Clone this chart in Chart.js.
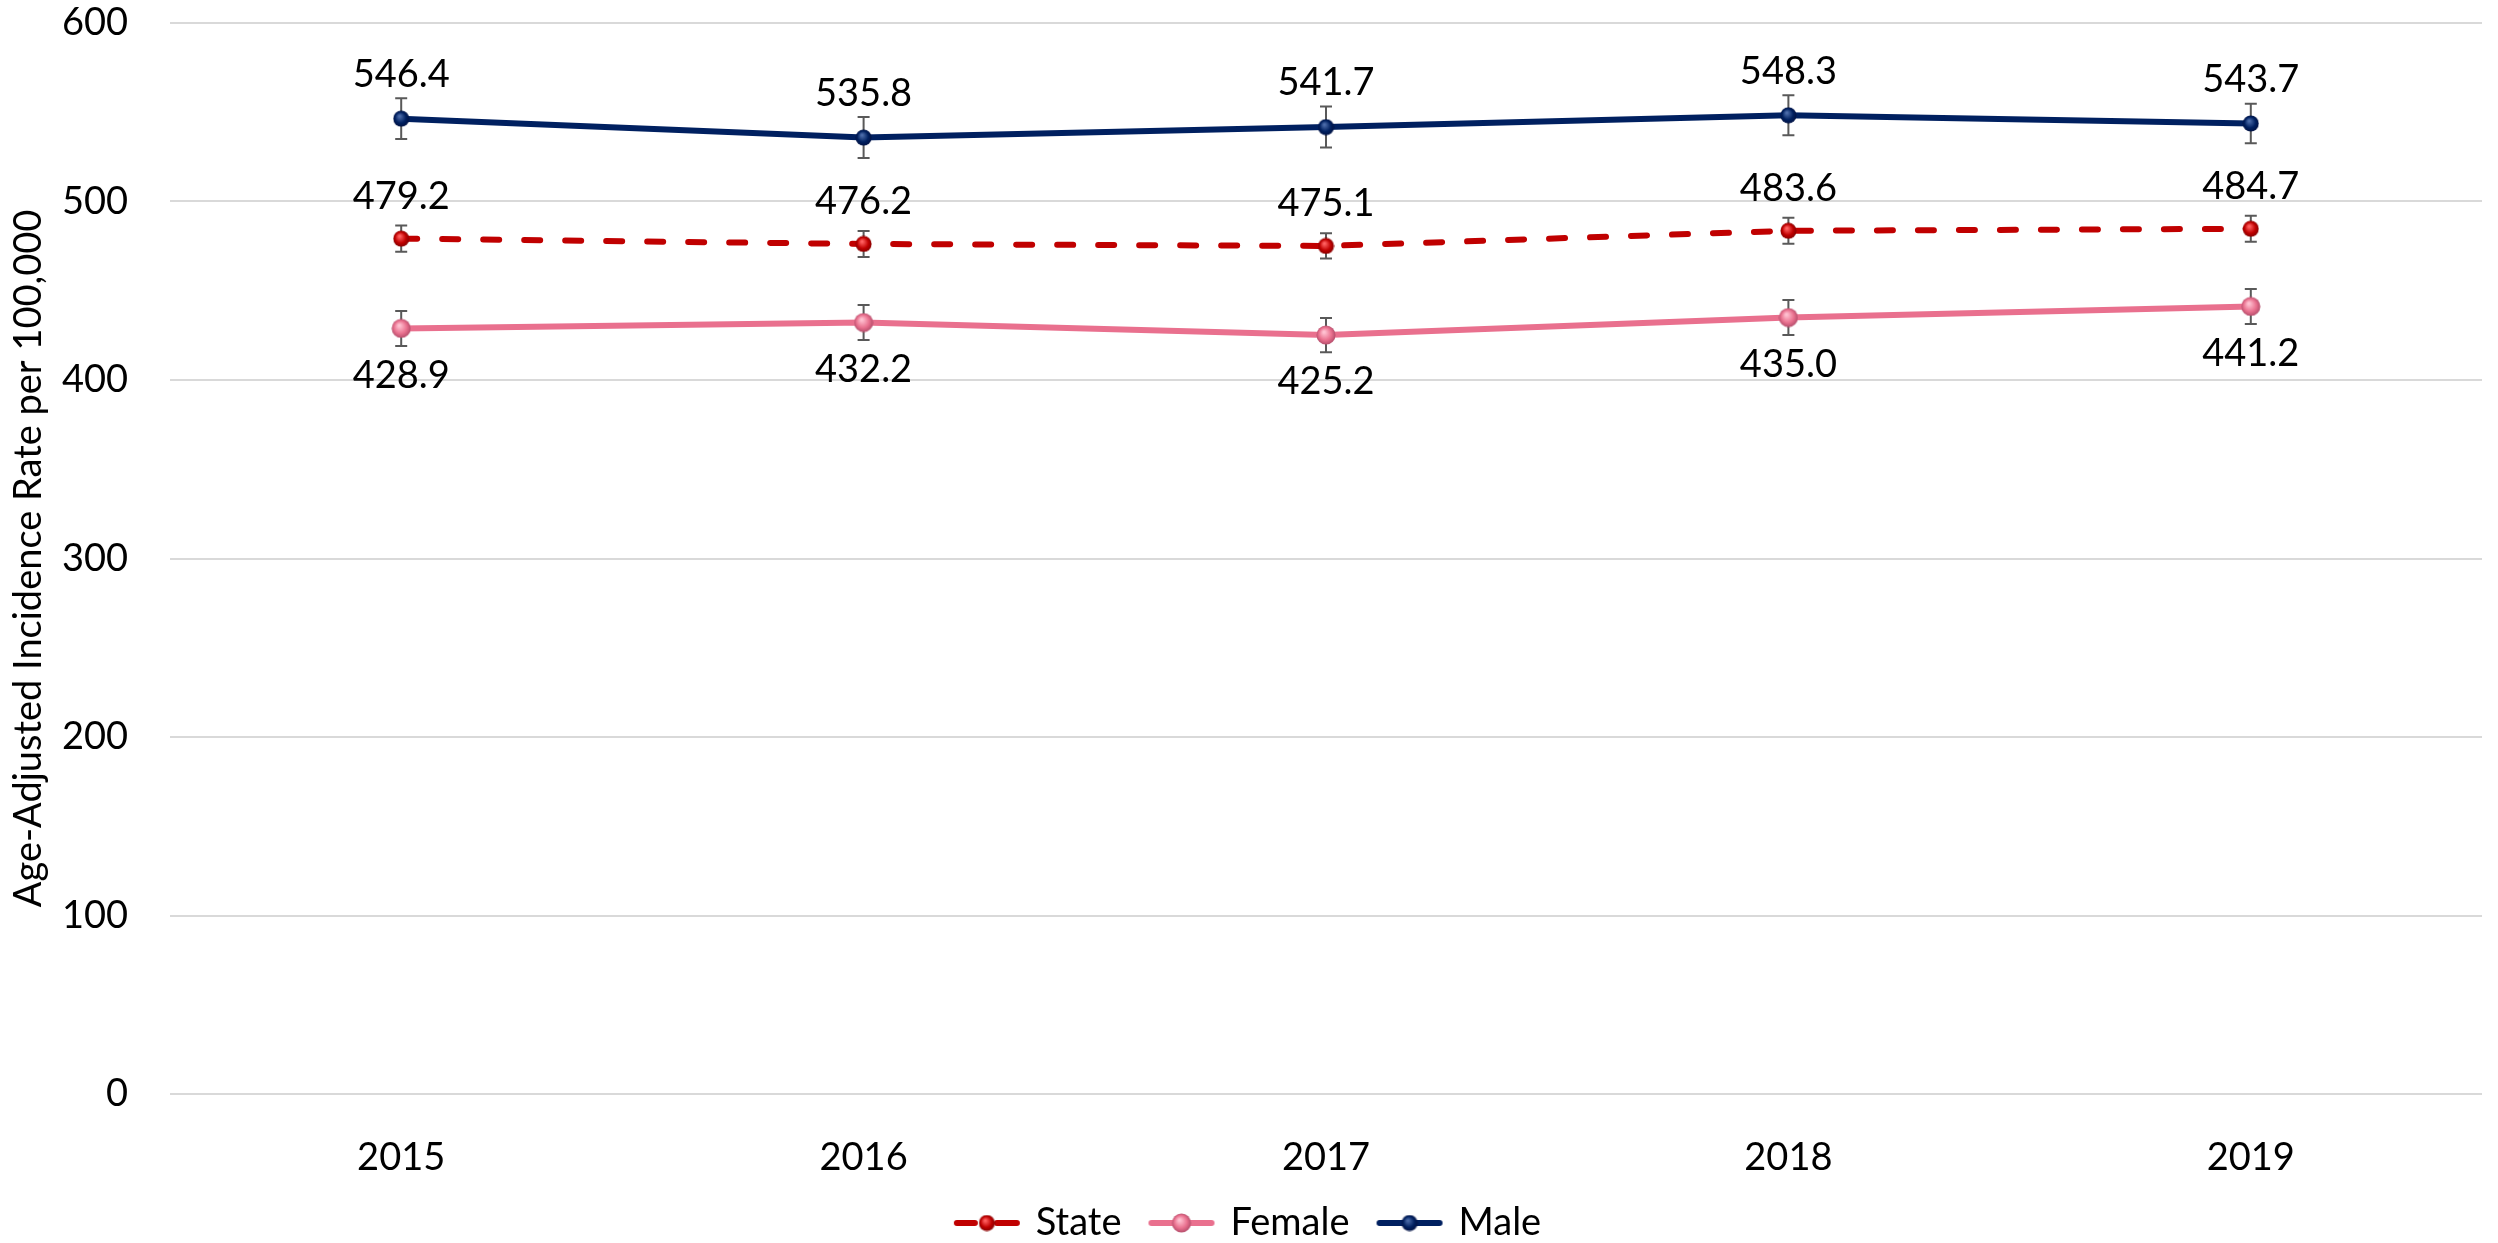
<!DOCTYPE html>
<html>
<head>
<meta charset="utf-8">
<script src="https://cdn.jsdelivr.net/npm/chart.js@4.4.1/dist/chart.umd.min.js"></script>
<style>
    html, body { margin: 0; padding: 0; background: #fff; }
    #wrap { width: 2498px; height: 1243px; }
</style>
</head>
<body>
<div id="wrap"><canvas id="graphe"></canvas></div>
<script>
// Données
const years = ['2015', '2016', '2017', '2018', '2019'];
const yTicks = [0, 100, 200, 300, 400, 500, 600];

const stateRate = [479.2, 476.2, 475.1, 483.6, 484.7];
const stateLow  = [471.9, 468.9, 468.0, 476.3, 477.4];
const stateHigh = [486.5, 483.5, 482.2, 490.9, 492.0];

const femaleRate = [428.9, 432.2, 425.2, 435.0, 441.2];
const femaleLow  = [419.1, 422.4, 415.6, 425.2, 431.4];
const femaleHigh = [438.7, 442.0, 434.8, 444.8, 451.0];

const maleRate = [546.4, 535.8, 541.7, 548.3, 543.7];
const maleLow  = [535.0, 524.3, 530.2, 537.1, 532.7];
const maleHigh = [557.8, 547.3, 553.2, 559.5, 554.7];

const FONT = 'Lato, "Open Sans", sans-serif';
Chart.defaults.font.family = FONT;
Chart.defaults.font.size = 38;
Chart.defaults.color = '#000';

// petite bille "3D" pour les marqueurs
function ball(base, light, dark, size) {
    const c = document.createElement('canvas');
    c.width = c.height = size;
    const g = c.getContext('2d');
    const r = size / 2;
    const grad = g.createRadialGradient(r * 0.8, r * 0.7, r * 0.1, r, r, r);
    grad.addColorStop(0, light);
    grad.addColorStop(0.6, base);
    grad.addColorStop(1, dark);
    g.fillStyle = grad;
    g.beginPath();
    g.arc(r, r, r - 0.5, 0, Math.PI * 2);
    g.fill();
    return c;
}

function legendMark(color, dashed, img) {
    const c = document.createElement('canvas');
    c.width = 68; c.height = 22;
    const g = c.getContext('2d');
    g.strokeStyle = color;
    g.lineWidth = 6;
    g.lineCap = 'round';
    g.beginPath();
    if (dashed) {
        g.moveTo(4, 11); g.lineTo(22, 11);
        g.moveTo(44, 11); g.lineTo(64, 11);
    } else {
        g.moveTo(4, 11); g.lineTo(64, 11);
    }
    g.stroke();
    g.drawImage(img, 34 - img.width / 2, 11 - img.height / 2);
    return c;
}

const stateBall = ball('#C00000', '#ff6060', '#800000', 17);
const femaleBall = ball('#E9708E', '#ffc0d0', '#b04a68', 20);
const maleBall = ball('#002060', '#4a6aa8', '#001040', 17);

const legendMarks = [
    legendMark('#C00000', true, stateBall),
    legendMark('#E9708E', false, femaleBall),
    legendMark('#002060', false, maleBall),
];

// barres d'erreur (sous les points) et étiquettes de valeurs
const extras = {
    id: 'extras',
    beforeDatasetsDraw(chart) {
        const { ctx, scales: { y } } = chart;
        ctx.save();
        ctx.strokeStyle = '#595959';
        ctx.lineWidth = 2;
        chart.data.datasets.forEach((ds, i) => {
            chart.getDatasetMeta(i).data.forEach((pt, j) => {
                const top = y.getPixelForValue(ds.errHigh[j]);
                const bot = y.getPixelForValue(ds.errLow[j]);
                ctx.beginPath();
                ctx.moveTo(pt.x, top); ctx.lineTo(pt.x, bot);
                ctx.moveTo(pt.x - 6, top); ctx.lineTo(pt.x + 6, top);
                ctx.moveTo(pt.x - 6, bot); ctx.lineTo(pt.x + 6, bot);
                ctx.stroke();
            });
        });
        ctx.restore();
    },
    afterDatasetsDraw(chart) {
        const { ctx } = chart;
        ctx.save();
        ctx.font = '38px ' + FONT;
        ctx.fillStyle = '#000';
        ctx.textAlign = 'center';
        ctx.textBaseline = 'middle';
        chart.data.datasets.forEach((ds, i) => {
            chart.getDatasetMeta(i).data.forEach((pt, j) => {
                ctx.fillText(ds.data[j].toFixed(1), pt.x, pt.y + ds.labelShift);
            });
        });
        ctx.restore();
    },
};

new Chart(document.getElementById('graphe'), {
    type: 'line',
    data: {
        labels: years,
        datasets: [
            {
                label: 'State',
                data: stateRate,
                errLow: stateLow,
                errHigh: stateHigh,
                labelShift: -42,
                borderColor: '#C00000',
                borderWidth: 6,
                borderDash: [16, 25],
                borderCapStyle: 'round',
                pointStyle: stateBall,
                pointRadius: 8,
                tension: 0,
            },
            {
                label: 'Female',
                data: femaleRate,
                errLow: femaleLow,
                errHigh: femaleHigh,
                labelShift: 47,
                borderColor: '#E9708E',
                borderWidth: 6,
                pointStyle: femaleBall,
                pointRadius: 10,
                tension: 0,
            },
            {
                label: 'Male',
                data: maleRate,
                errLow: maleLow,
                errHigh: maleHigh,
                labelShift: -44,
                borderColor: '#002060',
                borderWidth: 6,
                pointStyle: maleBall,
                pointRadius: 8,
                tension: 0,
            },
        ],
    },
    options: {
        responsive: true,
        maintainAspectRatio: false,
        animation: false,
        devicePixelRatio: 1,
        layout: { padding: { top: 23, left: 0, right: 0, bottom: -9 } },
        scales: {
            y: {
                min: 0,
                max: 600,
                afterBuildTicks: (s) => { s.ticks = yTicks.map(v => ({ value: v })); },
                afterFit: (s) => { s.width = 170; },
                ticks: { padding: 0, color: '#000' },
                grid: {
                    color: '#d9d9d9',
                    lineWidth: 2,
                    drawTicks: true,
                    tickLength: 42,
                    tickColor: 'rgba(0,0,0,0)',
                },
                border: { display: false },
                title: {
                    display: true,
                    text: 'Age-Adjusted Incidence Rate per 100,000',
                    color: '#000',
                    padding: { top: 6, bottom: 0 },
                },
            },
            x: {
                offset: true,
                afterFit: (s) => { s.height = 80; },
                ticks: { padding: 33, color: '#000', maxRotation: 0 },
                grid: { display: false },
                border: { display: false },
            },
        },
        plugins: {
            tooltip: { enabled: false },
            legend: {
                position: 'bottom',
                labels: {
                    usePointStyle: true,
                    pointStyleWidth: 60,
                    padding: 30,
                    color: '#000',
                    generateLabels(chart) {
                        const items = Chart.defaults.plugins.legend.labels.generateLabels(chart);
                        items.forEach((it, i) => { it.pointStyle = legendMarks[i]; });
                        return items;
                    },
                },
            },
        },
    },
    plugins: [extras],
});
</script>
</body>
</html>
